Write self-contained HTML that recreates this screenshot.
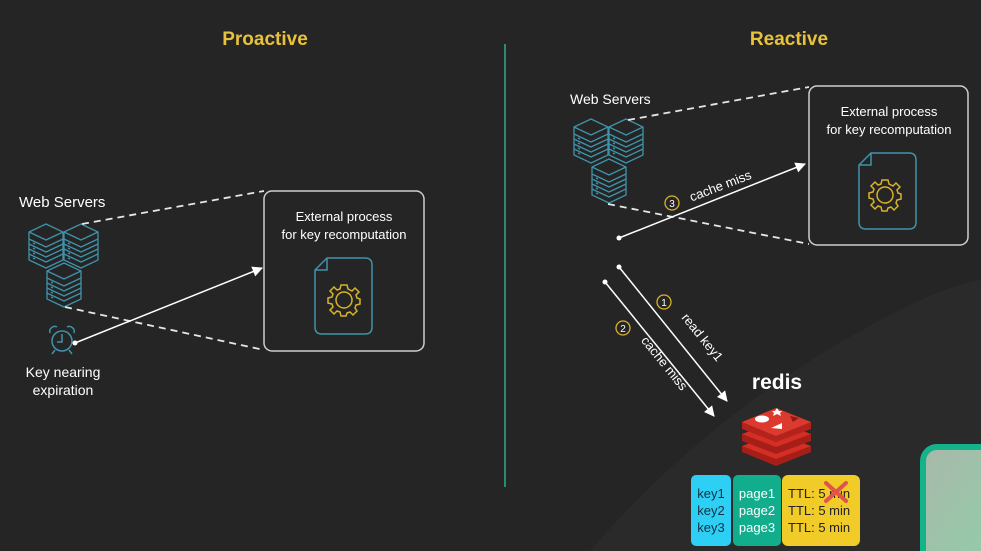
<!DOCTYPE html>
<html><head><meta charset="utf-8">
<style>
html,body{margin:0;padding:0;background:#252525;}
svg{display:block;}
text{font-family:"Liberation Sans","DejaVu Sans",sans-serif;}
</style></head>
<body>
<svg width="981" height="551" viewBox="0 0 981 551" xmlns="http://www.w3.org/2000/svg">
<defs>
  <g id="srv" fill="none" stroke="#3f93ab" stroke-width="1.3">
    <path d="M0,8 L17,0 L34,8 L34,36 L17,44 L0,36 Z"/>
    <path d="M0,8 L17,16 L34,8"/>
    <path d="M0,15 L17,23 L34,15"/>
    <path d="M0,20 L17,28 L34,20"/>
    <path d="M0,25 L17,33 L34,25"/>
    <path d="M0,30 L17,38 L34,30"/>
    <path d="M4,19 l2,1 M4,24 l2,1 M4,29 l2,1 M4,34 l2,1"/>
  </g>
  <g id="doc" fill="none">
    <path d="M12,0 L50,0 Q57,0 57,7 L57,69 Q57,76 50,76 L7,76 Q0,76 0,69 L0,12 Z" stroke="#3f93ab" stroke-width="1.5"/>
    <path d="M0,12 L12,12 L12,0" stroke="#3f93ab" stroke-width="1.5"/>
  </g>
  <g id="gear" fill="none" stroke="#d8b32a" stroke-width="1.5">
    <circle r="8"/>
    <path d="M-3,-15 L3,-15 L4,-11 L8,-9 L11,-12 L15,-8 L12,-5 L13,-2 L16,-1 L16,4 L12,5 L11,8 L13,11 L9,15 L6,12 L3,13 L2,16 L-3,16 L-4,12 L-7,11 L-10,14 L-14,10 L-11,7 L-12,4 L-16,3 L-16,-2 L-12,-3 L-11,-6 L-14,-9 L-10,-13 L-7,-10 L-4,-11 Z"/>
  </g>
  <marker id="ah" viewBox="0 0 10 10" refX="9" refY="5" markerWidth="7" markerHeight="7" orient="auto">
    <path d="M0,0 L10,5 L0,10 Z" fill="#fff"/>
  </marker>
  <linearGradient id="gg" x1="0" y1="0" x2="1" y2="1">
    <stop offset="0" stop-color="#a9b8aa"/><stop offset="1" stop-color="#8fcfa8"/>
  </linearGradient>
</defs>
<rect width="981" height="551" fill="#252525"/>
<path d="M590,551 C660,470 760,380 900,310 C940,290 965,282 981,280 L981,551 Z" fill="#2a2a2a"/>

<text x="265" y="45" text-anchor="middle" fill="#e8c23a" font-size="19" font-weight="bold">Proactive</text>
<text x="789" y="45" text-anchor="middle" fill="#e8c23a" font-size="19" font-weight="bold">Reactive</text>
<line x1="505" y1="44" x2="505" y2="487" stroke="#2a8a72" stroke-width="2"/>

<!-- Left -->
<text x="19" y="207" fill="#fff" font-size="15">Web Servers</text>
<use href="#srv" x="29" y="224"/>
<use href="#srv" x="64" y="224"/>
<use href="#srv" x="47" y="263"/>
<line x1="82" y1="224" x2="264" y2="191" stroke="#e6e6e6" stroke-width="1.8" stroke-dasharray="7,5"/>
<line x1="65" y1="307" x2="264" y2="350" stroke="#e6e6e6" stroke-width="1.8" stroke-dasharray="7,5"/>
<rect x="264" y="191" width="160" height="160" rx="8" fill="none" stroke="#cfcfcf" stroke-width="1.5"/>
<text x="344" y="221" text-anchor="middle" fill="#fff" font-size="13">External process</text>
<text x="344" y="239" text-anchor="middle" fill="#fff" font-size="13">for key recomputation</text>
<use href="#doc" x="315" y="258"/>
<use href="#gear" x="344" y="300"/>
<g fill="none" stroke="#3f93ab" stroke-width="1.5">
  <circle cx="62" cy="341" r="10"/>
  <path d="M62,334 L62,342 L57,342"/>
  <path d="M50,333 a5,5 0 0 1 7,-6 M74,333 a5,5 0 0 0 -7,-6"/>
  <path d="M55,350 l-3,4 M69,350 l3,4"/>
</g>
<line x1="75" y1="343" x2="262" y2="268" stroke="#fff" stroke-width="1.5" marker-end="url(#ah)"/>
<circle cx="75" cy="343" r="2.5" fill="#fff"/>
<text x="63" y="377" text-anchor="middle" fill="#fff" font-size="14">Key nearing</text>
<text x="63" y="395" text-anchor="middle" fill="#fff" font-size="14">expiration</text>

<!-- Right -->
<text x="570" y="104" fill="#fff" font-size="14">Web Servers</text>
<use href="#srv" x="574" y="119"/>
<use href="#srv" x="609" y="119"/>
<use href="#srv" x="592" y="159"/>
<line x1="628" y1="120" x2="809" y2="87" stroke="#e6e6e6" stroke-width="1.8" stroke-dasharray="7,5"/>
<line x1="608" y1="204" x2="809" y2="244" stroke="#e6e6e6" stroke-width="1.8" stroke-dasharray="7,5"/>
<rect x="809" y="86" width="159" height="159" rx="8" fill="none" stroke="#cfcfcf" stroke-width="1.5"/>
<text x="889" y="116" text-anchor="middle" fill="#fff" font-size="13">External process</text>
<text x="889" y="134" text-anchor="middle" fill="#fff" font-size="13">for key recomputation</text>
<use href="#doc" x="859" y="153"/>
<use href="#gear" x="885" y="195"/>
<line x1="619" y1="238" x2="805" y2="164" stroke="#fff" stroke-width="1.5" marker-end="url(#ah)"/>
<circle cx="619" cy="238" r="2.5" fill="#fff"/>
<circle cx="672" cy="203" r="7" fill="none" stroke="#d8b32a" stroke-width="1.3"/>
<text x="672" y="207" text-anchor="middle" fill="#fff" font-size="10">3</text>
<text x="722" y="190" text-anchor="middle" fill="#fff" font-size="13" transform="rotate(-21 722 190)">cache miss</text>

<line x1="619" y1="267" x2="727" y2="401" stroke="#fff" stroke-width="1.5" marker-end="url(#ah)"/>
<circle cx="619" cy="267" r="2.5" fill="#fff"/>
<line x1="605" y1="282" x2="714" y2="416" stroke="#fff" stroke-width="1.5" marker-end="url(#ah)"/>
<circle cx="605" cy="282" r="2.5" fill="#fff"/>
<circle cx="664" cy="302" r="7" fill="none" stroke="#d8b32a" stroke-width="1.3"/>
<text x="664" y="306" text-anchor="middle" fill="#fff" font-size="10">1</text>
<circle cx="623" cy="328" r="7" fill="none" stroke="#d8b32a" stroke-width="1.3"/>
<text x="623" y="332" text-anchor="middle" fill="#fff" font-size="10">2</text>
<text x="699" y="340" text-anchor="middle" fill="#fff" font-size="13" transform="rotate(51 699 340)">read key1</text>
<text x="661" y="366" text-anchor="middle" fill="#fff" font-size="13" transform="rotate(51 661 366)">cache miss</text>

<text x="777" y="389" text-anchor="middle" fill="#fff" font-size="21" font-weight="bold">redis</text>
<g>
  <!-- bottom layer -->
  <path d="M742,446 L742,452 L776,466 L811,452 L811,446 Z" fill="#a51f18"/>
  <path d="M742,446 L776,433 L811,446 L776,459 Z" fill="#d42e25"/>
  <!-- middle layer -->
  <path d="M742,434 L742,441 L776,454 L811,441 L811,434 Z" fill="#a51f18"/>
  <path d="M742,434 L776,421 L811,434 L776,447 Z" fill="#d42e25"/>
  <!-- top layer -->
  <path d="M742,422 L742,429 L776,442 L811,429 L811,422 Z" fill="#b3231c"/>
  <path d="M742,422 L776,408 L811,422 L776,436 Z" fill="#dc3a2e"/>
  <ellipse cx="762" cy="419" rx="7" ry="3.5" fill="#fff"/>
  <path d="M775,411 l2,-3 2,3 3,0 -2,2 1,3 -4,-2 -4,2 1,-3 -2,-2z" fill="#fff"/>
  <path d="M771,428 L782,423 L782,429 Z" fill="#fff"/>
  <path d="M790,416 L799,418 L793,422 Z" fill="#8f1a14"/>
</g>

<rect x="691" y="475" width="40" height="71" rx="5" fill="#2ecff5"/>
<rect x="733" y="475" width="48" height="71" rx="5" fill="#12ad8c"/>
<rect x="782" y="475" width="78" height="71" rx="6" fill="#f1cb28"/>
<g font-size="13" text-anchor="middle">
  <text x="711" y="498" fill="#143040">key1</text>
  <text x="711" y="515" fill="#143040">key2</text>
  <text x="711" y="532" fill="#143040">key3</text>
  <text x="757" y="498" fill="#fff">page1</text>
  <text x="757" y="515" fill="#fff">page2</text>
  <text x="757" y="532" fill="#fff">page3</text>
</g>
<g font-size="13" fill="#222">
  <text x="788" y="498">TTL: 5 min</text>
  <text x="788" y="515">TTL: 5 min</text>
  <text x="788" y="532">TTL: 5 min</text>
</g>
<path d="M826,483 L846,501 M846,483 L826,501" stroke="#e0544a" stroke-width="4" stroke-linecap="round"/>

<rect x="923" y="447" width="80" height="120" rx="14" fill="url(#gg)" stroke="#15b38a" stroke-width="6"/>
</svg>
</body></html>
